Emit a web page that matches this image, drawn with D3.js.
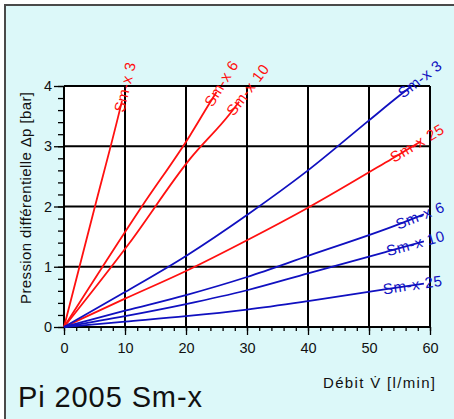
<!DOCTYPE html>
<html>
<head>
<meta charset="utf-8">
<script src="https://cdn.jsdelivr.net/npm/d3@7"></script>
<style>
    html, body { margin: 0; padding: 0; background: #ffffff; }
    #chart { width: 454px; height: 419px; }
    text { font-family: "Liberation Sans", Arial, Helvetica, sans-serif; }
</style>
</head>
<body>
<div id="chart"></div>
<script>
// flow [l/min] / pressure drop [bar]
const xTicks = [0, 10, 20, 30, 40, 50, 60];
const yTicks = [0, 1, 2, 3, 4];

const red3 = [[0, 0], [5, 1.97], [9.07, 3.57], [9.5, 3.75]];
const red6 = [[0, 0], [12.76, 2], [20.66, 3.18], [23.66, 3.68], [25, 3.9]];
const red10 = [[0, 0], [10.7, 1.39], [20.66, 2.79], [27.2, 3.54], [28.7, 3.74]];
const red25 = [[0, 0], [10, 0.47], [20, 0.93], [30, 1.44], [40, 1.98], [53.7, 2.79], [58.5, 3.08]];
const blue3 = [[0, 0], [10, 0.58], [20, 1.18], [30, 1.86], [40, 2.6], [50, 3.43], [55.1, 3.85], [57, 4.0]];
const blue6 = [[0, 0], [10, 0.27], [20, 0.53], [30, 0.83], [40, 1.18], [54.5, 1.69], [59, 1.87]];
const blue10 = [[0, 0], [10, 0.18], [20, 0.38], [30, 0.61], [40, 0.89], [52.9, 1.25], [59, 1.42]];
const blue25 = [[0, 0], [10, 0.09], [20, 0.18], [30, 0.29], [40, 0.43], [52.3, 0.62], [59, 0.72]];

const seriesNames = ["Sm-x 3", "Sm-x 6", "Sm-x 10", "Sm-x 25", "Sm-x 3", "Sm-x 6", "Sm-x 10", "Sm-x 25"];
const seriesData = [red3, red6, red10, red25, blue3, blue6, blue10, blue25];
const seriesGroup = ["red", "red", "red", "red", "blue", "blue", "blue", "blue"];

const colors = { red: "#ff1010", blue: "#1010c0" };

const width = 454, height = 419;
const margin = { left: 64, right: 24, top: 86, bottom: 92 };

const svg = d3.select("#chart").append("svg")
    .attr("width", width)
    .attr("height", height);

// frame
svg.append("rect").attr("x", 5).attr("y", 5).attr("width", width - 5).attr("height", height - 5)
    .attr("fill", "#dcf8f9");
svg.append("path").attr("d", "M5," + height + "V5H" + width)
    .attr("fill", "none").attr("stroke", "#4a4a4a").attr("stroke-width", 2);

const x = d3.scaleLinear().domain([0, 60]).range([margin.left, width - margin.right]);
const y = d3.scaleLinear().domain([0, 4]).range([height - margin.bottom, margin.top]);

// plot area
svg.append("rect")
    .attr("x", x(0)).attr("y", y(4))
    .attr("width", x(60) - x(0)).attr("height", y(0) - y(4))
    .attr("fill", "#ffffff");

const grid = svg.append("g").attr("class", "grid");
grid.selectAll("line.v").data(xTicks).enter().append("line")
    .attr("x1", d => x(d)).attr("x2", d => x(d))
    .attr("y1", y(0)).attr("y2", y(4))
    .attr("stroke", "#000").attr("stroke-width", 2);
grid.selectAll("line.h").data(yTicks).enter().append("line")
    .attr("x1", x(0)).attr("x2", x(60))
    .attr("y1", d => y(d)).attr("y2", d => y(d))
    .attr("stroke", "#000").attr("stroke-width", 2);

// axes
const xAxis = d3.axisBottom(x).tickValues(xTicks).tickSize(8).tickPadding(8).tickFormat(d3.format("d"));
const yAxis = d3.axisLeft(y).tickValues(yTicks).tickSize(10).tickPadding(2).tickFormat(d3.format("d"));

const gx = svg.append("g").attr("transform", "translate(0," + y(0) + ")")
    .call(xAxis);
gx.append("g").call(d3.axisBottom(x).tickValues(d3.range(0, 61, 2)).tickSize(4).tickFormat(""));

const gy = svg.append("g").attr("transform", "translate(" + x(0) + ",0)")
    .call(yAxis);
gy.append("g").call(d3.axisLeft(y).tickValues(d3.range(0, 4.01, 0.2)).tickSize(6).tickFormat(""));

svg.selectAll(".domain").remove();
svg.selectAll(".tick line").attr("stroke", "#000").attr("stroke-width", 1.3);
svg.selectAll(".tick text").attr("font-size", 14.5).attr("fill", "#111")
    .attr("font-family", "'Liberation Sans', Arial, sans-serif");

// series
const line = d3.line().curve(d3.curveMonotoneX).x(d => x(d[0])).y(d => y(d[1]));
const lines = svg.append("g").attr("class", "series");

seriesData.forEach((data, i) => {
    const color = colors[seriesGroup[i]];
    lines.append("path")
        .attr("d", line(data))
        .attr("fill", "none")
        .attr("stroke", color)
        .attr("stroke-width", 1.8);

    // label starts at the second-to-last point, along the last segment
    const a = data[data.length - 2], b = data[data.length - 1];
    const px = x(a[0]), py = y(a[1]);
    const angle = Math.atan2(y(b[1]) - py, x(b[0]) - px) * 180 / Math.PI;
    lines.append("text")
        .attr("transform", "translate(" + px + "," + py + ") rotate(" + angle + ")")
        .attr("dy", "0.32em")
        .attr("font-size", 15)
        .attr("letter-spacing", 0.6)
        .attr("fill", color)
        .text(seriesNames[i]);
});

// titles
svg.append("text")
    .attr("transform", "translate(31,198) rotate(-90)")
    .attr("text-anchor", "middle")
    .attr("font-size", 15)
    .attr("textLength", 212)
    .attr("lengthAdjust", "spacing")
    .attr("fill", "#111")
    .text("Pression différentielle Δp [bar]");

svg.append("text")
    .attr("x", 323).attr("y", 388)
    .attr("font-size", 15)
    .attr("textLength", 112)
    .attr("lengthAdjust", "spacing")
    .attr("fill", "#111")
    .text("Débit V\u0307 [l/min]");

svg.append("text")
    .attr("x", 18).attr("y", 407)
    .attr("font-size", 29)
    .attr("textLength", 184)
    .attr("lengthAdjust", "spacing")
    .attr("fill", "#111")
    .text("Pi 2005 Sm-x");
</script>
</body>
</html>
